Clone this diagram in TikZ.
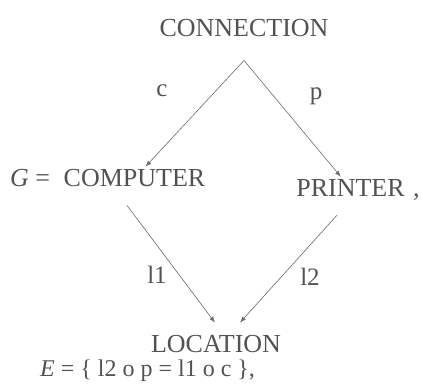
\documentclass[tikz,border=0pt]{standalone}
\usepackage{fontspec}
\setmainfont{Liberation Serif}
\usepackage{xcolor}
\usepackage{tikz}
\usetikzlibrary{arrows.meta,positioning,calc}
\definecolor{ink}{gray}{0.32}
\definecolor{wire}{gray}{0.42}

\begin{document}
\begin{tikzpicture}[
  x=1pt, y=1pt,
  >={Latex[length=6pt,width=4.5pt]},
  obj/.style={text=ink, font=\fontsize{26}{30}\selectfont, anchor=base, inner sep=3pt},
  lbl/.style={text=ink, font=\fontsize{25}{30}\selectfont, anchor=base, inner sep=1pt},
  arr/.style={->, draw=wire, line width=0.6pt}
]
\useasboundingbox (0,0) rectangle (422,388);

% objects
\node[obj] (conn) at (244,351) {CONNECTION};
\node[obj] (comp) at (134.5,201) {COMPUTER};
\node[obj] (prn) at (350.5,191) {PRINTER};
\node[obj] (loc) at (216,36) {LOCATION};
\node[obj, anchor=base west] (gdef) at (7,201) {\textit{G} =};
\node[obj, anchor=base west] (comma) at (410,191) {,};
\node[obj, anchor=base west, inner sep=1pt, font=\fontsize{24}{28}\selectfont] (edef) at (39,12) {\textit{E} = \{ l2 o p = l1 o c \},};

% morphisms
\coordinate (apex) at ([yshift=-20pt]conn.south);
\draw[arr] (apex) -- (comp);
\draw[arr] (apex) -- (prn);
\draw[arr] ([shift={(-7.5,-15)}]comp.south) -- ([shift={(-1,9)}]loc.north);
\draw[arr] ([shift={(-13.5,-15)}]prn.south) -- ([shift={(24,9)}]loc.north);

\node[lbl] (lc) at (162,291) {c};
\node[lbl] (lp) at (316,288) {p};
\node[lbl] (l1) at (157,105) {l1};
\node[lbl] (l2) at (310,103) {l2};
\end{tikzpicture}
\end{document}
